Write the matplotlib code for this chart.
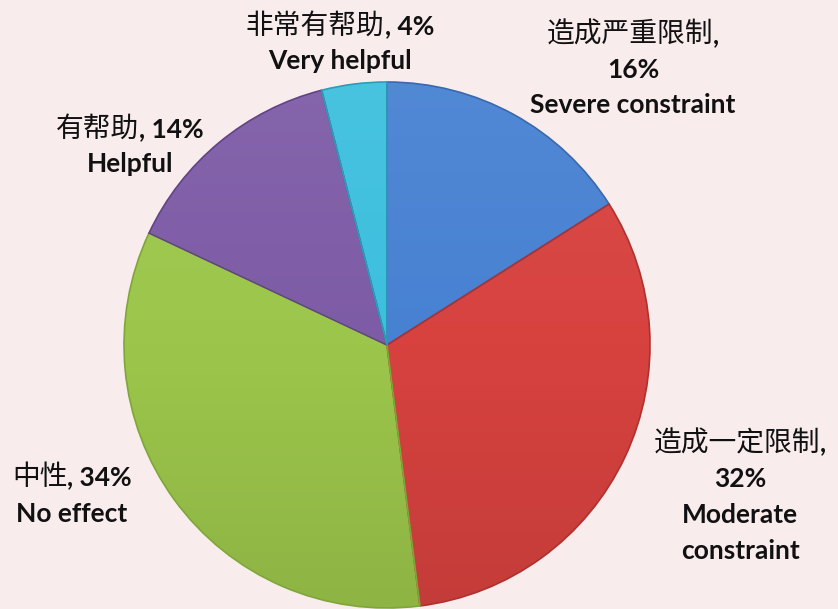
import numpy as np
import matplotlib.pyplot as plt
from matplotlib.colors import LinearSegmentedColormap, to_rgb

# survey shares, clockwise from 12 o'clock
names_cn = ["造成严重限制", "造成一定限制", "中性", "有帮助", "非常有帮助"]
names_en = ["Severe constraint", "Moderate\nconstraint", "No effect", "Helpful", "Very helpful"]
shares = [16, 32, 34, 14, 4]
colors = ["#4781D2", "#D7423F", "#9CC64B", "#7D5BA6", "#3CBFDE"]
edges = ["#3A68AE", "#B0302E", "#7FA63A", "#614488", "#2B9DB8"]

bg = "#F9ECEC"
plt.rcParams['font.family'] = ['Lato', 'Noto Sans CJK SC', 'DejaVu Sans']

fig = plt.figure(figsize=(8.38, 6.09), dpi=100, facecolor=bg)
ax = fig.add_axes([0, 0, 1, 1])
ax.set_facecolor(bg)

cx, cy, r = 387, 264, 263
wedges, _ = ax.pie(shares, colors=colors, startangle=90, counterclock=False,
                   center=(cx, cy), radius=r,
                   wedgeprops=dict(linewidth=1.2))

# vertical shading inside every slice: lighter on top, darker at the bottom
grad = np.linspace(0, 1, 256).reshape(-1, 1)
for w, c, ec in zip(wedges, colors, edges):
    base = np.array(to_rgb(c))
    top = base + (1 - base) * 0.06
    bot = base * 0.91
    cmap = LinearSegmentedColormap.from_list("sh", [bot, base, top])
    im = ax.imshow(grad, cmap=cmap, origin='lower', aspect='auto',
                   extent=(cx - r, cx + r, cy - r, cy + r), zorder=w.get_zorder() + 0.1)
    im.set_clip_path(w)
    w.set_edgecolor(ec)
    w.set_facecolor('none')
    w.set_zorder(w.get_zorder() + 0.2)

ax.set_xlim(0, 838)
ax.set_ylim(0, 609)
ax.set_aspect('equal')
ax.axis('off')

renderer = fig.canvas.get_renderer()
FS_LAT = 19
FS_CJK = 20
CJK = ['Noto Sans CJK SC', 'DejaVu Sans']
LAT = ['Lato', 'Noto Sans CJK SC', 'DejaVu Sans']


def line(xc, y, parts):
    # parts: list of (text, is_cjk); cjk drawn regular, the rest bold
    arts = []
    for s, is_cjk in parts:
        t = ax.text(0, y, s, ha='left', va='center',
                    fontsize=FS_CJK if is_cjk else FS_LAT,
                    family=CJK if is_cjk else LAT,
                    fontweight='normal' if is_cjk else 'bold', color='#111111')
        arts.append(t)
    widths = [t.get_window_extent(renderer).width for t in arts]
    x = xc - sum(widths) / 2
    for t, w in zip(arts, widths):
        t.set_x(x)
        x += w


def label(xc, ytop, rows, step=35):
    for i, parts in enumerate(rows):
        line(xc, 609 - (ytop + i * step), parts)


lbl = {cn: (cn, en, v) for cn, en, v in zip(names_cn, names_en, shares)}

cn, en, v = lbl["造成严重限制"]
label(633, 35, [[(cn, True), (",", False)], [(f"{v}%", False)], [(en, False)]])

cn, en, v = lbl["造成一定限制"]
en1, en2 = en.split("\n")
label(740, 443, [[(cn, True), (",", False)], [(f"{v}%", False)],
                 [(en1, False)], [(en2, False)]], step=36)

cn, en, v = lbl["中性"]
label(72, 477, [[(cn, True), (f", {v}%", False)], [(en, False)]], step=37)

cn, en, v = lbl["有帮助"]
label(130, 129, [[(cn, True), (f", {v}%", False)], [(en, False)]])

cn, en, v = lbl["非常有帮助"]
label(340, 26, [[(cn, True), (f", {v}%", False)], [(en, False)]])

fig.savefig("out.png", dpi=100, facecolor=bg)
